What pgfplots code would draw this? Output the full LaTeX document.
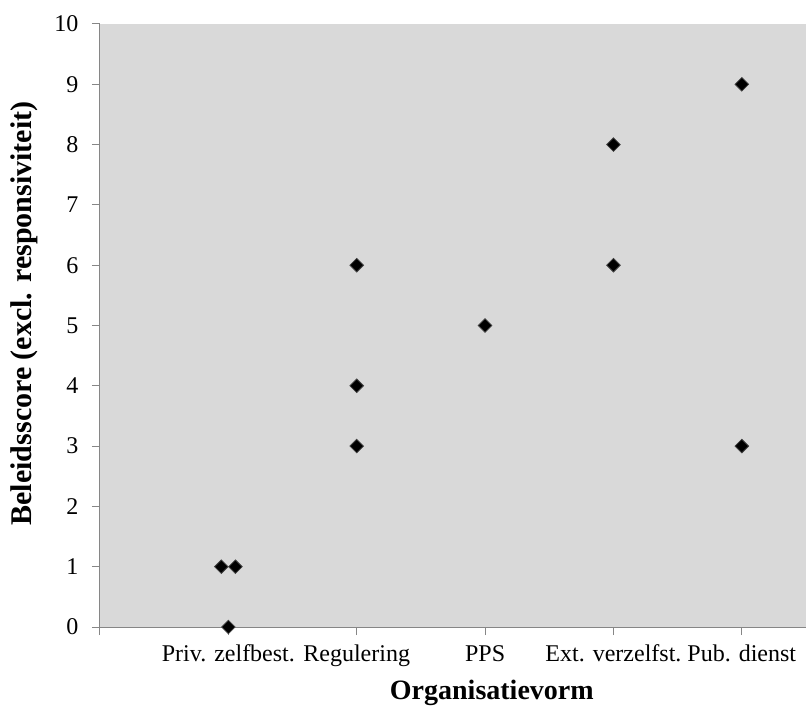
\documentclass[border=0pt]{standalone}
\usepackage{fontspec}
\setmainfont{Liberation Serif}
\usepackage{pgfplots}
\pgfplotsset{compat=1.18}
\definecolor{bg}{HTML}{D9D9D9}
\definecolor{ax}{HTML}{868686}
\begin{document}
\fontsize{18pt}{21pt}\selectfont
\begin{tikzpicture}
\begin{axis}[
  scale only axis, width=529.5pt, height=452.25pt,
  xmin=0, xmax=5.5, ymin=0, ymax=10,
  axis x line*=bottom, axis y line*=left,
  axis background/.style={fill=bg},
  xtick={0,1,2,3,4,5},
  xticklabels={,Priv. zelfbest.,Regulering,PPS,Ext. verzelfst.,Pub. dienst},
  ytick={0,1,...,10},
  tick align=outside, major tick length=6pt,
  tick style={ax, line width=0.75pt},
  axis line style={ax, line width=0.75pt},
  tick label style={font=\fontsize{18pt}{21pt}\selectfont},
  xticklabel style={text height=13pt, text depth=4pt, yshift=-1pt},
  yticklabel style={xshift=-4pt},
  /pgf/number format/assume math mode=true,
  ylabel={\bfseries Beleidsscore (excl. responsiviteit)},
  xlabel={\bfseries Organisatievorm},
  ylabel style={font=\fontsize{22.5pt}{26pt}\selectfont, at={(axis description cs:-0.1076,0.52)}, anchor=center},
  xlabel style={font=\fontsize{21pt}{25pt}\selectfont, at={(axis description cs:0.555,-0.121)}, anchor=base},
  clip=false,
]
\addplot[only marks, mark=square*, mark size=3.6pt,
  mark options={rotate=45, fill=black, draw=black!75, line width=0.6pt}]
  coordinates {(0.945,1) (1.055,1) (1,0) (2,6) (2,4) (2,3) (3,5) (4,8) (4,6) (5,9) (5,3)};
\coordinate (ll) at (rel axis cs:0,0);
\coordinate (ur) at (rel axis cs:1,1);
\end{axis}
\pgfresetboundingbox
\path ([shift={(-75pt,-61.5pt)}]ll) rectangle ([shift={(4.5pt,18pt)}]ur);
\end{tikzpicture}
\end{document}
